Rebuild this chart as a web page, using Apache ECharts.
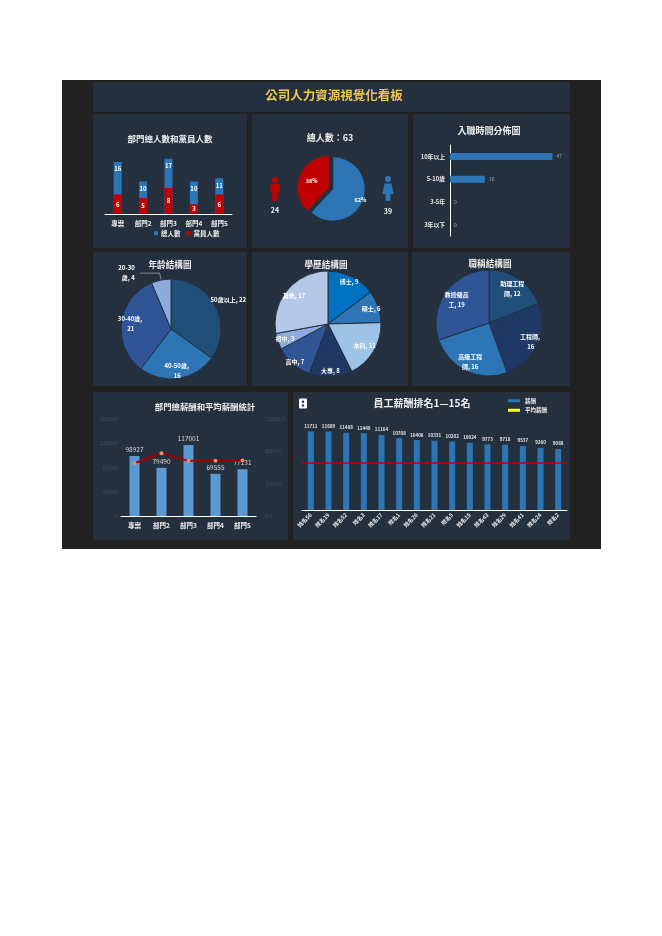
<!DOCTYPE html>
<html>
<head>
<meta charset="utf-8">
<script src="https://cdn.jsdelivr.net/npm/echarts@6/dist/echarts.min.js"></script>
<style>
html, body { margin: 0; padding: 0; background: #fff; }
#main { width: 662px; height: 936px; }
</style>
</head>
<body>
<div id="main"></div>
<script>
// ---- data ----
const deptNames = ['專案', '部門2', '部門3', '部門4', '部門5'];
const deptTotal = [16, 10, 17, 10, 11];
const deptParty = [6, 5, 8, 3, 6];

const genderNames = ['女', '男'];
const genderValues = [39, 24];
const headcount = 63;

const tenureNames = ['10年以上', '5-10歲', '3-5年', '3年以下'];
const tenureValues = [47, 16, 0, 0];

const ageNames = ['50歲以上', '40-50歲', '30-40歲', '20-30歲'];
const ageValues = [22, 16, 21, 4];

const eduNames = ['博士', '碩士', '本科', '大專', '高中', '初中', '其他'];
const eduValues = [9, 6, 11, 8, 7, 3, 17];

const rankNames = ['助理工程師', '工程師', '高級工程師', '教授級高工'];
const rankValues = [12, 16, 16, 19];

const deptSalary = [98927, 79490, 117001, 69555, 77131];
const deptAvgSalary = [6520, 7760, 6820, 6850, 6860];
const salaryTicks = [0, 40000, 80000, 120000, 160000];
const avgTicks = [0, 4000, 8000, 12000];

const staffNames = ['姓名56', '姓名19', '姓名52', '姓名3', '姓名17', '姓名1', '姓名26', '姓名21',
  '姓名5', '姓名15', '姓名43', '姓名29', '姓名41', '姓名24', '姓名2'];
const staffSalary = [11711, 11689, 11488, 11440, 11164, 10708, 10406, 10331,
  10202, 10024, 9773, 9718, 9537, 9260, 9088];
const staffAvg = 7100;

// ---- look ----
const FONT = '"Noto Sans CJK TC", "Noto Sans CJK SC", sans-serif';
const PANEL = '#25303f';
const BLUE = '#2e75b6';
const RED = '#c00000';

const chart = echarts.init(document.getElementById('main'));

function heading(text, x, y, size, color) {
  return {
    text: text, left: x, top: y - size * 0.65, textAlign: 'center', padding: 0,
    textStyle: { color: color || '#eeeeee', fontSize: size, fontWeight: 'bold', fontFamily: FONT }
  };
}

// move pie labels outwards from the centre by a factor per slice
function pushLabels(cx, cy, factors) {
  return function (params) {
    const f = factors[params.dataIndex];
    if (!f) return {};
    const r = params.labelRect;
    const lx = r.x + r.width / 2;
    const ly = r.y + r.height / 2;
    return { x: cx + (lx - cx) * f, y: cy + (ly - cy) * f, align: 'center', verticalAlign: 'middle' };
  };
}

const pieLabel = { show: true, position: 'inside', color: '#fff', fontSize: 6, fontWeight: 'bold',
  fontFamily: FONT, formatter: '{b}, {c}', lineHeight: 10 };

// panels behind everything
const panels = [
  [93, 82, 477, 30], [93, 114, 154, 134], [252, 114, 156, 134], [413, 114, 157, 134],
  [93, 252, 154, 134], [252, 252, 156, 134], [412, 252, 158, 134],
  [93, 392, 195, 148], [293, 392, 277, 148]
];
const graphics = [{ type: 'rect', z: -20, shape: { x: 62, y: 80, width: 539, height: 469 }, style: { fill: '#222222' } }];
panels.forEach(function (p) {
  graphics.push({ type: 'rect', z: -10, shape: { x: p[0], y: p[1], width: p[2], height: p[3] }, style: { fill: PANEL } });
});
// male figure
graphics.push({ type: 'group', z: 10, children: [
  { type: 'circle', shape: { cx: 275, cy: 180, r: 3 }, style: { fill: RED } },
  { type: 'rect', shape: { x: 270.5, y: 184, width: 9, height: 9, r: 1.5 }, style: { fill: RED } },
  { type: 'rect', shape: { x: 272.3, y: 192, width: 5.4, height: 9 }, style: { fill: RED } }
] });
// female figure
graphics.push({ type: 'group', z: 10, children: [
  { type: 'circle', shape: { cx: 388, cy: 179, r: 3 }, style: { fill: BLUE } },
  { type: 'polygon', shape: { points: [[384.5, 183.5], [391.5, 183.5], [393.5, 194], [382.5, 194]] }, style: { fill: BLUE } },
  { type: 'rect', shape: { x: 385.6, y: 193, width: 4.8, height: 8 }, style: { fill: BLUE } }
] });
graphics.push({ type: 'text', z: 10, x: 275, y: 210, style: { text: String(genderValues[1]), fill: '#eeeeee',
  font: 'bold 7px ' + FONT, align: 'center', verticalAlign: 'middle' } });
graphics.push({ type: 'text', z: 10, x: 388, y: 211, style: { text: String(genderValues[0]), fill: '#eeeeee',
  font: 'bold 7px ' + FONT, align: 'center', verticalAlign: 'middle' } });
// slicer icon on the ranking panel
graphics.push({ type: 'group', z: 10, children: [
  { type: 'rect', shape: { x: 299, y: 398.5, width: 8, height: 10, r: 1 }, style: { fill: '#ffffff' } },
  { type: 'circle', shape: { cx: 303, cy: 401.8, r: 1.2 }, style: { fill: '#25303f' } },
  { type: 'circle', shape: { cx: 303, cy: 405.4, r: 1.2 }, style: { fill: '#25303f' } }
] });

const ageData = ageNames.map(function (n, i) { return { name: n, value: ageValues[i] }; });
ageData[0].label = { width: 60 };
ageData[3].label = { position: 'outside', width: 19 };

const genderColors = [BLUE, RED];
const genderData = genderNames.map(function (n, i) {
  return { name: n, value: genderValues[i], itemStyle: { color: genderColors[i] }, selected: i === 1 };
});

const option = {
  animation: false,
  backgroundColor: '#ffffff',
  textStyle: { fontFamily: FONT },
  graphic: graphics,
  title: [
    heading('公司人力資源視覺化看板', 334, 97, 12.5, '#f0c84e'),
    heading('部門總人數和黨員人數', 170, 140, 8.5),
    heading('總人數：' + headcount, 330, 139, 9),
    heading('入職時間分佈圖', 489, 132, 9),
    heading('年龄結構圖', 170, 266, 8.6),
    heading('學歷結構圖', 326, 266, 8.6),
    heading('職稱結構圖', 490, 265, 8.6),
    heading('部門總薪酬和平均薪酬統計', 205, 408, 8.4),
    heading('員工薪酬排名1—15名', 422, 405, 10)
  ],
  legend: [
    { left: 154, top: 230, itemWidth: 4, itemHeight: 4, itemGap: 6, padding: 0, icon: 'rect',
      data: ['總人數', '黨員人數'],
      textStyle: { color: '#eeeeee', fontSize: 6.5, fontWeight: 'bold', fontFamily: FONT, padding: [0, 0, 0, -2] } },
    { left: 508, top: 398, orient: 'vertical', itemWidth: 12, itemHeight: 3, itemGap: 4, padding: 0,
      data: [{ name: '薪酬', icon: 'rect', itemStyle: { color: BLUE } },
             { name: '平均薪酬', icon: 'rect', itemStyle: { color: '#ffff00' } }],
      textStyle: { color: '#eeeeee', fontSize: 5.5, fontWeight: 'bold', fontFamily: FONT } }
  ],
  grid: [
    { left: 105, top: 149, width: 127, height: 65, outerBoundsMode: 'none' },
    { left: 450, top: 145, width: 109, height: 91, outerBoundsMode: 'none' },
    { left: 121, top: 419, width: 135, height: 97, outerBoundsMode: 'none' },
    { left: 302, top: 416, width: 265, height: 94, outerBoundsMode: 'none' }
  ],
  xAxis: [
    { type: 'category', gridIndex: 0, data: deptNames,
      axisLine: { lineStyle: { color: '#ffffff', width: 1 } }, axisTick: { show: false },
      axisLabel: { color: '#eeeeee', fontSize: 6.5, fontWeight: 'bold', margin: 6 } },
    { type: 'value', gridIndex: 1, min: 0, max: 50, show: false },
    { type: 'category', gridIndex: 2, data: deptNames,
      axisLine: { lineStyle: { color: '#ffffff', width: 1.2 } }, axisTick: { show: false },
      axisLabel: { color: '#eeeeee', fontSize: 6.5, fontWeight: 'bold', margin: 6 } },
    { type: 'category', gridIndex: 3, data: staffNames,
      axisLine: { lineStyle: { color: '#ffffff', width: 1 } }, axisTick: { show: false },
      axisLabel: { color: '#eeeeee', fontSize: 5.5, fontWeight: 'bold', rotate: 45, margin: 4, interval: 0 } }
  ],
  yAxis: [
    { type: 'value', gridIndex: 0, min: 0, max: 20, show: false },
    { type: 'category', gridIndex: 1, data: tenureNames, inverse: true,
      axisLine: { lineStyle: { color: '#ffffff', width: 1 } }, axisTick: { show: false },
      axisLabel: { color: '#eeeeee', fontSize: 5.8, fontWeight: 'bold', margin: 5 } },
    { type: 'value', gridIndex: 2, min: salaryTicks[0], max: salaryTicks[salaryTicks.length - 1],
      interval: salaryTicks[1] - salaryTicks[0], splitLine: { show: false },
      axisLine: { show: false }, axisTick: { show: false },
      axisLabel: { color: '#3e4c5d', fontSize: 5.5, margin: 3, formatter: function (v) { return String(v); } } },
    { type: 'value', gridIndex: 2, position: 'right', min: avgTicks[0], max: avgTicks[avgTicks.length - 1],
      interval: avgTicks[1] - avgTicks[0], splitLine: { show: false },
      axisLine: { show: false }, axisTick: { show: false },
      axisLabel: { color: '#3e4c5d', fontSize: 5.5, margin: 9, formatter: function (v) { return v.toFixed(1); } } },
    { type: 'value', gridIndex: 3, min: 0, max: 14000, show: false }
  ],
  series: [
    { name: '總人數', type: 'bar', xAxisIndex: 0, yAxisIndex: 0, data: deptTotal, barWidth: 8,
      itemStyle: { color: BLUE },
      label: { show: true, position: 'insideTop', distance: 4, color: '#ffffff', fontSize: 6, fontWeight: 'bold' } },
    { name: '黨員人數', type: 'bar', xAxisIndex: 0, yAxisIndex: 0, data: deptParty, barWidth: 8, barGap: '-100%',
      itemStyle: { color: RED },
      label: { show: true, position: 'inside', color: '#ffffff', fontSize: 6, fontWeight: 'bold' } },
    { name: '性別', type: 'pie', center: [333, 189], radius: 32, startAngle: 90,
      selectedMode: 'single', selectedOffset: 4, data: genderData,
      itemStyle: { borderColor: PANEL, borderWidth: 0.5 },
      label: { show: true, position: 'inside', color: '#ffffff', fontSize: 5.5, fontWeight: 'bold',
        formatter: function (p) { return Math.round(p.percent) + '%'; } },
      labelLayout: pushLabels(333, 189, [1.55, 1.7]) },
    { name: '入職時間', type: 'bar', xAxisIndex: 1, yAxisIndex: 1, data: tenureValues, barWidth: 7,
      itemStyle: { color: BLUE },
      label: { show: true, position: 'right', distance: 4, color: '#9aa4ae', fontSize: 5 } },
    { name: '年龄', type: 'pie', center: [171, 329], radius: 50, startAngle: 90, data: ageData,
      color: ['#1f4e79', '#2e75b6', '#2f5597', '#8faadc'],
      itemStyle: { borderColor: PANEL, borderWidth: 1 },
      label: Object.assign({}, pieLabel, { width: 27, overflow: 'break' }),
      labelLine: { show: true, length: 7, length2: 20, lineStyle: { color: '#bfbfbf', width: 0.6 } },
      labelLayout: pushLabels(171, 329, [2.3, 1.52, 1.45, 0]) },
    { name: '學歷', type: 'pie', center: [328, 324], radius: 53, startAngle: 90,
      data: eduNames.map(function (n, i) { return { name: n, value: eduValues[i] }; }),
      color: ['#0070c0', '#2e75b6', '#9dc3e6', '#203864', '#2f5597', '#8faadc', '#b4c7e7'],
      itemStyle: { borderColor: PANEL, borderWidth: 1 },
      label: pieLabel,
      labelLayout: pushLabels(328, 324, [1.6, 1.55, 1.45, 1.6, 1.7, 1.55, 1.5]) },
    { name: '職稱', type: 'pie', center: [489, 323], radius: 53, startAngle: 90,
      data: rankNames.map(function (n, i) { return { name: n, value: rankValues[i] }; }),
      color: ['#1f4e79', '#203864', '#2e75b6', '#2f5597'],
      itemStyle: { borderColor: PANEL, borderWidth: 1 },
      label: Object.assign({}, pieLabel, { width: 27, overflow: 'break' }),
      labelLayout: pushLabels(489, 323, [1.4, 1.55, 1.47, 1.35]) },
    { name: '部門總薪酬', type: 'bar', xAxisIndex: 2, yAxisIndex: 2, data: deptSalary, barWidth: 10,
      itemStyle: { color: '#5b9bd5' },
      label: { show: true, position: 'top', distance: 3, color: '#d9d9d9', fontSize: 6.5 } },
    { name: '部門平均薪酬', type: 'line', xAxisIndex: 2, yAxisIndex: 3, data: deptAvgSalary,
      symbol: 'circle', symbolSize: 4, z: 5,
      lineStyle: { color: '#a00000', width: 2 }, itemStyle: { color: '#f08a5d' } },
    { name: '薪酬', type: 'bar', xAxisIndex: 3, yAxisIndex: 4, data: staffSalary, barWidth: 6,
      itemStyle: { color: BLUE },
      label: { show: true, position: 'top', distance: 3, color: '#e6e6e6', fontSize: 4.5, fontWeight: 'bold' },
      markLine: { silent: true, symbol: 'none', label: { show: false },
        lineStyle: { color: RED, width: 1.5, type: 'solid' }, data: [{ yAxis: staffAvg }] } },
    { name: '平均薪酬', type: 'line', xAxisIndex: 3, yAxisIndex: 4, data: [],
      itemStyle: { color: '#ffff00' }, lineStyle: { color: '#ffff00' } }
  ]
};
chart.setOption(option);
</script>
</body>
</html>
